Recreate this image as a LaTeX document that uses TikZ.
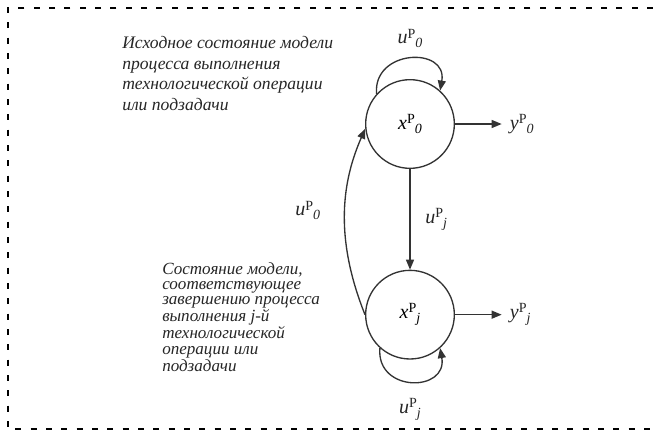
\documentclass[tikz,border=0pt]{standalone}
\usepackage{fontspec}
\setmainfont{Liberation Serif}
\usetikzlibrary{positioning,arrows.meta}
\newcommand{\sv}[2]{\textit{#1}\raisebox{0.6ex}{\fontsize{10.5}{10.5}\selectfont P}\raisebox{-0.45ex}{\fontsize{10.5}{10.5}\selectfont\itshape #2}}

\begin{document}
\begin{tikzpicture}[x=0.75pt, y=0.75pt,
  state/.style={circle, draw=black!80, line width=1pt, minimum size=66.5pt, inner sep=0pt,
                font=\fontsize{15}{17}\selectfont},
  lbl/.style={font=\fontsize{15}{17}\selectfont, text=black!85, inner sep=2pt},
  note/.style={align=left, anchor=north west, inner sep=0pt, text=black!85},
  arr/.style={-{Triangle[length=7.5pt,width=6pt]}, line width=1pt, draw=black!80},
]
\useasboundingbox (0,0) rectangle (653,437);
\draw[dash pattern=on 4.5pt off 7pt, line width=1.5pt] (653,429) -- (8,429) -- (8,8) -- (653,8);

\node[state] (x0) at (410,313) {\sv{x}{0}};
\node[state, below=75.5pt of x0] (xj) {\sv{x}{j}};
\node[lbl, right=35pt of x0, inner sep=6pt] (y0) {\sv{y}{0}};
\node[lbl, right=35pt of xj, inner sep=6pt] (yj) {\sv{y}{j}};
\node[lbl, above=21pt of x0] (u0top) {\sv{u}{0}};
\node[lbl, below=27pt of xj] (ujbot) {\sv{u}{j}};

\node[note, font=\fontsize{13.2}{15.5}\selectfont\itshape] (txt0) at (122,401)
  {Исходное состояние модели\\процесса выполнения\\технологической операции\\или подзадачи};
\node[note, font=\fontsize{12.8}{11.5}\selectfont\itshape] (txtj) at (162,175)
  {Состояние модели,\\соответствующее\\завершению процесса\\выполнения j-й\\технологической\\операции или\\подзадачи};

\draw[arr] (x0) -- node[lbl, right=9pt] (ujmid) {\sv{u}{j}} (xj);
\draw[arr] (x0) -- (y0);
\draw[arr] (xj) -- (yj);
\draw[arr] (x0.138) .. controls +(95:45) and +(80:45) .. (x0.48);
\draw[arr] (xj.228) .. controls +(265:45) and +(280:45) .. (xj.312);
\draw[arr] (xj.west) .. controls +(-32,80) and +(-22,-50) .. node[lbl, left=16pt] (u0left) {\sv{u}{0}} (x0.186);
\end{tikzpicture}
\end{document}
